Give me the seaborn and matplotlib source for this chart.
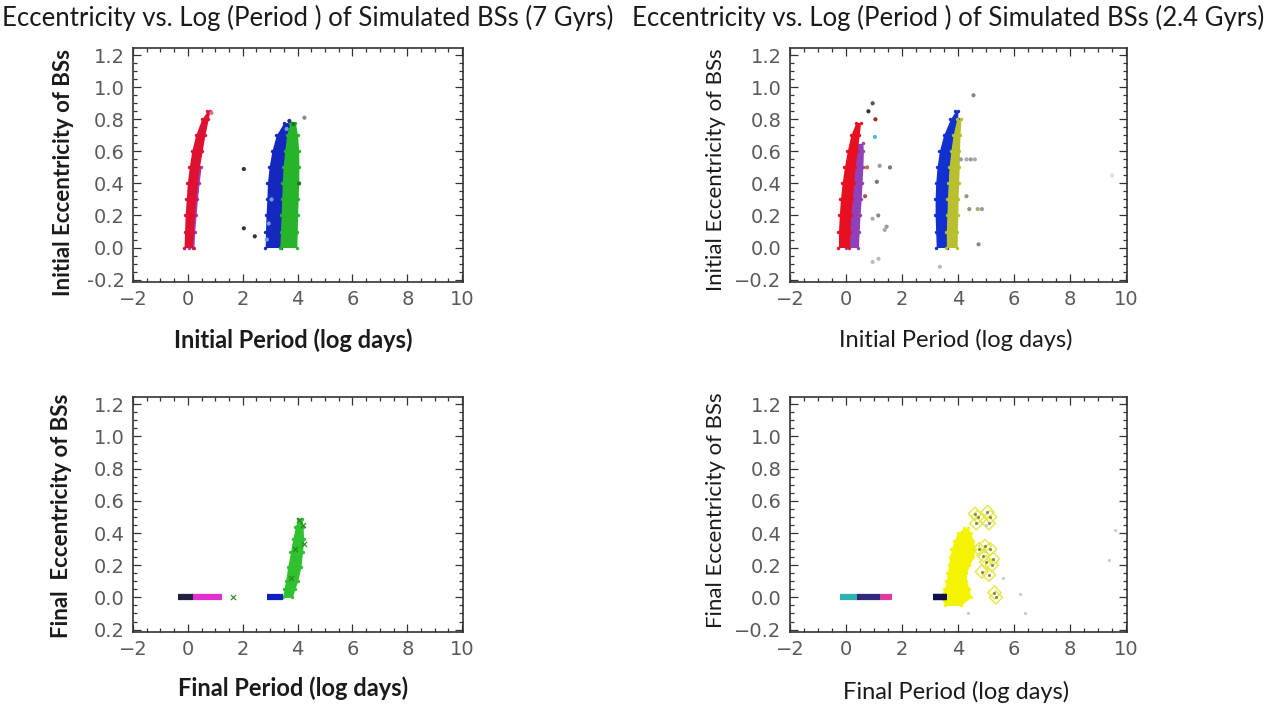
import matplotlib
matplotlib.use("Agg")
import matplotlib.pyplot as plt
from matplotlib.ticker import MultipleLocator
import seaborn as sns
import pandas as pd

# axis ticks shared by all four panels
x_ticks = [-2, 0, 2, 4, 6, 8, 10]
x_tick_labels = ["\u22122", "0", "2", "4", "6", "8", "10"]
y_ticks = [-0.2, 0.0, 0.2, 0.4, 0.6, 0.8, 1.0, 1.2]
y_labels_tl = ["-0.2", "0.0", "0.2", "0.4", "0.6", "0.8", "1.0", "1.2"]
y_labels_bl = ["0.2", "0.0", "0.2", "0.4", "0.6", "0.8", "1.0", "1.2"]
y_labels_r = ["\u22120.2", "0.0", "0.2", "0.4", "0.6", "0.8", "1.0", "1.2"]

# ---- 7 Gyrs, initial (band outlines) ----
tl_red_e = [0.0, 0.1, 0.2, 0.3, 0.4, 0.5, 0.6, 0.7, 0.8, 0.85]
tl_red_lo = [-0.14, -0.12, -0.1, -0.06, -0.02, 0.05, 0.14, 0.28, 0.5, 0.7]
tl_red_hi = [0.17, 0.2, 0.24, 0.29, 0.35, 0.42, 0.52, 0.62, 0.74, 0.8]
tl_pur_e = [0.0, 0.1, 0.2, 0.3, 0.4, 0.5]
tl_pur_lo = [0.05, 0.08, 0.12, 0.16, 0.2, 0.26]
tl_pur_hi = [0.22, 0.25, 0.3, 0.35, 0.41, 0.48]
tl_blue_e = [0.0, 0.1, 0.2, 0.3, 0.4, 0.5, 0.6, 0.7, 0.78]
tl_blue_lo = [2.82, 2.83, 2.85, 2.88, 2.9, 2.96, 3.06, 3.22, 3.5]
tl_blue_hi = [3.4, 3.4, 3.42, 3.45, 3.48, 3.52, 3.58, 3.68, 3.8]
tl_green_e = [0.0, 0.1, 0.2, 0.3, 0.4, 0.5, 0.6, 0.7, 0.78]
tl_green_lo = [3.35, 3.38, 3.4, 3.42, 3.44, 3.47, 3.53, 3.6, 3.72]
tl_green_hi = [3.97, 3.99, 4.0, 4.02, 4.04, 4.05, 4.04, 4.0, 3.92]
tl_pts_p = [2.04, 2.04, 2.44, 4.25, 0.86, 2.88, 2.95, 3.05, 3.6, 3.7, 3.85, 4.05]
tl_pts_e = [0.49, 0.12, 0.07, 0.81, 0.84, 0.05, 0.15, 0.3, 0.74, 0.79, 0.77, 0.4]
tl_pts_c = ["#333333", "#333333", "#333333", "#8a8a8a", "#e07090", "#6fa0e0", "#6fa0e0",
            "#6fa0e0", "#6fa0e0", "#203080", "#1a7a1a", "#1a7a1a"]

# ---- 2.4 Gyrs, initial ----
tr_pur_e = [0.0, 0.1, 0.2, 0.3, 0.4, 0.5, 0.6, 0.65]
tr_pur_lo = [0.0, 0.0, 0.02, 0.06, 0.1, 0.15, 0.22, 0.3]
tr_pur_hi = [0.44, 0.47, 0.5, 0.54, 0.57, 0.6, 0.62, 0.6]
tr_red_e = [0.0, 0.1, 0.2, 0.3, 0.4, 0.5, 0.6, 0.7, 0.78]
tr_red_lo = [-0.27, -0.27, -0.24, -0.2, -0.14, -0.06, 0.04, 0.17, 0.35]
tr_red_hi = [0.12, 0.14, 0.17, 0.22, 0.27, 0.32, 0.4, 0.47, 0.52]
tr_blue_e = [0.0, 0.1, 0.2, 0.3, 0.4, 0.5, 0.6, 0.7, 0.8, 0.85]
tr_blue_lo = [3.22, 3.2, 3.18, 3.18, 3.2, 3.25, 3.33, 3.48, 3.72, 3.9]
tr_blue_hi = [3.6, 3.6, 3.62, 3.64, 3.66, 3.7, 3.76, 3.85, 3.98, 4.0]
tr_olive_e = [0.0, 0.1, 0.2, 0.3, 0.4, 0.5, 0.6, 0.7, 0.8]
tr_olive_lo = [3.58, 3.58, 3.6, 3.62, 3.65, 3.68, 3.74, 3.82, 3.95]
tr_olive_hi = [3.97, 3.97, 3.99, 4.0, 4.02, 4.04, 4.05, 4.07, 4.1]
tr_pts_p = [1.57, 1.1, 1.2, 1.15, 1.45, 0.68, 1.03, 0.75, 0.8, 0.95, 1.05,
            4.1, 4.3, 4.45, 4.6, 4.4, 4.7, 4.85, 4.3, 4.73, 4.55, 1.16, 0.95,
            3.35, 1.38, 0.95, 9.5]
tr_pts_e = [0.5, 0.41, 0.51, 0.2, 0.13, 0.32, 0.69, 0.5, 0.85, 0.9, 0.8,
            0.55, 0.55, 0.55, 0.55, 0.24, 0.24, 0.24, 0.32, 0.02, 0.95, -0.07, -0.09,
            -0.12, 0.11, 0.18, 0.45]
tr_pts_c = ["#777777", "#777777", "#999999", "#888888", "#999999", "#b05050", "#40c0d0",
            "#b07040", "#333333", "#555555", "#aa2222",
            "#999999", "#aaaaaa", "#999999", "#aaaaaa", "#999966", "#aaaa77", "#999999",
            "#999966", "#888888", "#888888", "#bbbbbb", "#bbbbbb", "#bbbbbb",
            "#aaaaaa", "#aaaaaa", "#dddddd"]

# ---- 7 Gyrs, final ----
bl_seg_start = [-0.36, 0.2, 2.87]
bl_seg_end = [0.2, 1.23, 3.45]
bl_seg_col = ["#202040", "#e030d0", "#1020c0"]
bl_green_e = [0.0, 0.05, 0.1, 0.19, 0.28, 0.36, 0.44, 0.49]
bl_green_lo = [3.45, 3.5, 3.56, 3.64, 3.74, 3.82, 3.92, 4.0]
bl_green_hi = [3.8, 3.9, 4.0, 4.12, 4.18, 4.22, 4.2, 4.15]
bl_pts_p = [1.65, 4.25, 4.18, 4.05, 3.9, 3.75]
bl_pts_e = [0.0, 0.33, 0.45, 0.48, 0.3, 0.12]

# ---- 2.4 Gyrs, final ----
br_seg_start = [-0.21, 0.38, 1.2, 3.1]
br_seg_end = [0.38, 1.2, 1.63, 3.6]
br_seg_col = ["#30b0b0", "#302a7a", "#e03aa0", "#101050"]
br_yel_e = [-0.05, 0.0, 0.05, 0.1, 0.15, 0.2, 0.25, 0.3, 0.35, 0.4, 0.43]
br_yel_lo = [3.55, 3.35, 3.5, 3.58, 3.62, 3.66, 3.7, 3.76, 3.85, 3.98, 4.2]
br_yel_hi = [4.1, 4.45, 4.4, 4.3, 4.3, 4.4, 4.55, 4.6, 4.55, 4.45, 4.35]
br_hollow_p = [4.6, 4.7, 4.65, 5.05, 5.15, 5.1, 4.75, 4.9, 5.0, 5.2, 4.85, 5.1,
               5.25, 5.3, 5.35, 4.95, 5.15]
br_hollow_e = [0.52, 0.5, 0.46, 0.53, 0.5, 0.46, 0.3, 0.26, 0.22, 0.2, 0.16, 0.14,
               0.24, 0.03, 0.0, 0.32, 0.3]
br_dust_p = [9.6, 9.38, 6.4, 4.36, 5.6, 6.2, 5.0]
br_dust_e = [0.42, 0.23, -0.1, -0.1, 0.12, 0.02, 0.45]

sns.set_style("ticks")
plt.rcParams["font.family"] = ["Lato", "DejaVu Sans"]

fig = plt.figure(figsize=(12.72, 7.09), dpi=100)
W, H = 1272, 709


def make_ax(left, top, right, bottom, ylabels):
    ax = fig.add_axes([left / W, 1 - bottom / H, (right - left) / W, (bottom - top) / H])
    ax.set_xlim(-2, 10.03)
    ax.set_ylim(-0.215, 1.245)
    ax.set_xticks(x_ticks)
    ax.set_xticklabels(x_tick_labels, family="DejaVu Sans")
    ax.set_yticks(y_ticks)
    ax.set_yticklabels(ylabels, family="DejaVu Sans")
    ax.xaxis.set_minor_locator(MultipleLocator(0.5))
    ax.yaxis.set_minor_locator(MultipleLocator(0.05))
    ax.tick_params(which="both", direction="in", top=True, right=True,
                   colors="#333333", labelcolor="#5a5a5a", labelsize=14, width=0.9)
    ax.tick_params(which="major", length=6, pad=6)
    ax.tick_params(which="minor", length=3)
    for s in ax.spines.values():
        s.set_color("#333333")
        s.set_linewidth(1.2)
    return ax


def band(ax, e, lo, hi, color):
    ax.fill_betweenx(e, lo, hi, color=color, linewidth=0)
    edge = pd.DataFrame({"p": lo + hi, "e": e + e})
    sns.scatterplot(data=edge, x="p", y="e", ax=ax, color=color, s=6,
                    linewidth=0, legend=False)


def segments(ax, start, end, cols):
    for a, b, c in zip(start, end, cols):
        sns.lineplot(x=[a, b], y=[0.0, 0.0], ax=ax, color=c, linewidth=4.5,
                     solid_capstyle="butt")


# top left
ax1 = make_ax(133, 48, 463, 282, y_labels_tl)
band(ax1, tl_pur_e, tl_pur_lo, tl_pur_hi, "#a040c0")
band(ax1, tl_red_e, tl_red_lo, tl_red_hi, "#e01030")
band(ax1, tl_blue_e, tl_blue_lo, tl_blue_hi, "#1428c0")
band(ax1, tl_green_e, tl_green_lo, tl_green_hi, "#28b428")
sns.scatterplot(x=tl_pts_p, y=tl_pts_e, ax=ax1, hue=list(range(len(tl_pts_c))),
                palette=tl_pts_c, s=9, linewidth=0, legend=False)

# top right
ax2 = make_ax(790, 48, 1127, 282, y_labels_r)
band(ax2, tr_pur_e, tr_pur_lo, tr_pur_hi, "#9040b8")
band(ax2, tr_red_e, tr_red_lo, tr_red_hi, "#e81020")
band(ax2, tr_blue_e, tr_blue_lo, tr_blue_hi, "#1030d0")
band(ax2, tr_olive_e, tr_olive_lo, tr_olive_hi, "#b8c030")
sns.scatterplot(x=tr_pts_p, y=tr_pts_e, ax=ax2, hue=list(range(len(tr_pts_c))),
                palette=tr_pts_c, s=9, linewidth=0, legend=False)

# bottom left
ax3 = make_ax(133, 397, 463, 632, y_labels_bl)
segments(ax3, bl_seg_start, bl_seg_end, bl_seg_col)
band(ax3, bl_green_e, bl_green_lo, bl_green_hi, "#30c030")
sns.scatterplot(x=bl_pts_p, y=bl_pts_e, ax=ax3, color="#1a8a1a", marker="x",
                s=14, linewidth=0.8, legend=False)

# bottom right
ax4 = make_ax(790, 397, 1127, 632, y_labels_r)
segments(ax4, br_seg_start, br_seg_end, br_seg_col)
band(ax4, br_yel_e, br_yel_lo, br_yel_hi, "#f4f400")
sns.scatterplot(x=br_hollow_p, y=br_hollow_e, ax=ax4, marker="D", s=45,
                facecolor="none", edgecolor="#e6e640", linewidth=1.0, legend=False)
sns.scatterplot(x=br_hollow_p, y=br_hollow_e, ax=ax4, color="#8a8a50", s=5,
                linewidth=0, legend=False)
sns.scatterplot(x=br_dust_p, y=br_dust_e, ax=ax4, color="#c8c8c8", s=5,
                linewidth=0, legend=False)
segments(ax4, br_seg_start[3:], br_seg_end[3:], br_seg_col[3:])

for ax in (ax1, ax2, ax3, ax4):
    ax.set_xlabel("")
    ax.set_ylabel("")

# titles and axis labels
fig.text(2 / W, 1 - 18 / H, "Eccentricity vs. Log (Period ) of Simulated BSs (7 Gyrs)",
         ha="left", va="center", fontsize=18.5, color="#1a1a1a")
fig.text(632 / W, 1 - 18 / H, "Eccentricity vs. Log (Period ) of Simulated BSs (2.4 Gyrs)",
         ha="left", va="center", fontsize=18.5, color="#1a1a1a")

fig.text(293 / W, 1 - 340 / H, "Initial Period (log days)", ha="center", va="center",
         fontsize=17, fontweight="bold", color="#1a1a1a")
fig.text(956 / W, 1 - 340 / H, "Initial Period (log days)", ha="center", va="center",
         fontsize=17, color="#1a1a1a")
fig.text(293 / W, 1 - 688 / H, "Final Period (log days)", ha="center", va="center",
         fontsize=17, fontweight="bold", color="#1a1a1a")
fig.text(956 / W, 1 - 692 / H, "Final Period (log days)", ha="center", va="center",
         fontsize=17, color="#1a1a1a")

fig.text(64 / W, 1 - 172 / H, "Initial Eccentricity of BSs", rotation=90, ha="center",
         va="center", fontsize=16, fontweight="bold", color="#1a1a1a")
fig.text(716 / W, 1 - 170 / H, "Initial Eccentricity of BSs", rotation=90, ha="center",
         va="center", fontsize=16, color="#1a1a1a")
fig.text(62 / W, 1 - 516 / H, "Final  Eccentricity of BSs", rotation=90, ha="center",
         va="center", fontsize=16, fontweight="bold", color="#1a1a1a")
fig.text(716 / W, 1 - 510 / H, "Final Eccentricity of BSs", rotation=90, ha="center",
         va="center", fontsize=16, color="#1a1a1a")

fig.savefig("out.png", dpi=100)
